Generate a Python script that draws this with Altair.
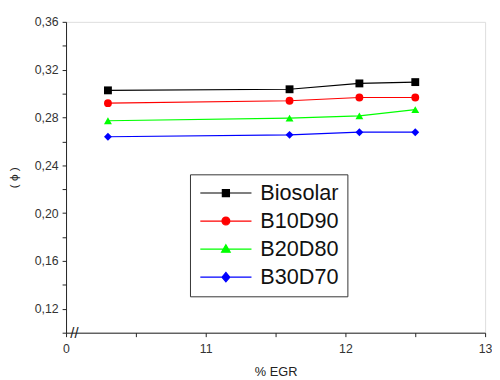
import altair as alt
import pandas as pd

# ---- data ----
egr = [10.3, 11.6, 12.1, 12.5]
biosolar = [0.3027, 0.3036, 0.3085, 0.3096]
b10d90 = [0.2920, 0.2940, 0.2967, 0.2967]
b20d80 = [0.2773, 0.2795, 0.2814, 0.2866]
b30d70 = [0.2639, 0.2655, 0.2677, 0.2677]

series_names = ["Biosolar", "B10D90", "B20D80", "B30D70"]
series_colors = ["#000000", "#ff0000", "#00ff00", "#0000ff"]
series_shapes = ["square", "circle", "triangle-up", "diamond"]
# legend glyphs: a line through the marker (unit space of Vega symbols)
legend_shapes = [
    "M-6.5,0H6.5M-0.9,-0.9H0.9V0.9H-0.9Z",
    "M-6.5,0H6.5M-1,0A1,1 0 1,0 1,0A1,1 0 1,0 -1,0Z",
    "M-6.5,0H6.5M0,-1.1L1.1,0.8L-1.1,0.8Z",
    "M-6.5,0H6.5M0,-1.2L1,0L0,1.2L-1,0Z",
]

x_ticks = [10, 10.5, 11, 11.5, 12, 12.5, 13]
y_ticks = [0.10, 0.12, 0.14, 0.16, 0.18, 0.20, 0.22, 0.24, 0.26, 0.28,
           0.30, 0.32, 0.34, 0.36]

rows = []
for name, vals in zip(series_names, [biosolar, b10d90, b20d80, b30d70]):
    for xv, yv in zip(egr, vals):
        rows.append({"egr": xv, "phi": yv, "series": name})
df = pd.DataFrame(rows)

brk = pd.DataFrame({"egr": [10.06], "phi": [0.10], "t": ["//"]})

FONT = "Liberation Sans"

xscale = alt.Scale(domain=[10, 13], nice=False, zero=False)
yscale = alt.Scale(domain=[0.10, 0.36], nice=False, zero=False)

xaxis = alt.Axis(
    values=x_ticks, title="% EGR", grid=False, labelFlush=False,
    labelExpr="datum.value % 1 != 0 ? '' : (datum.value == 10 ? '0' : format(datum.value, 'd'))",
    tickSize=4, labelOverlap=False,
    labelFontSize=12.5, titleFontSize=13, labelFont=FONT, titleFont=FONT,
    labelColor="#333", titleColor="#222", titleFontWeight="normal",
    domainColor="#222", tickColor="#222", labelPadding=6, titlePadding=11,
)
yaxis = alt.Axis(
    values=y_ticks, title="( ϕ )", grid=False, labelFlush=False,
    format=".2f", labelOverlap=False,
    labelExpr="(round(datum.value * 100) % 4 == 0 && datum.value > 0.11) ? datum.label : ''",
    tickSize=4,
    labelFontSize=12.5, titleFontSize=12, labelFont=FONT, titleFont=FONT,
    labelColor="#333", titleColor="#222", titleFontWeight="normal",
    domainColor="#222", tickColor="#222", labelPadding=4, titlePadding=14,
)

color_scale = alt.Scale(domain=series_names, range=series_colors)
shape_scale = alt.Scale(domain=series_names, range=series_shapes)
legend_shape_scale = alt.Scale(domain=series_names, range=legend_shapes)

legend = alt.Legend(
    orient="none", legendX=126, legendY=155, title=None,
    symbolSize=64, symbolStrokeWidth=1.2, symbolOpacity=1,
    symbolOffset=17.5, labelOffset=24,
    labelFontSize=22, labelFont=FONT, labelColor="#111",
    padding=8, strokeColor="#333", fillColor="#ffffff", rowPadding=6.5,
)

base = alt.Chart(df)
lines = base.mark_line(strokeWidth=1.2).encode(
    x=alt.X("egr:Q", scale=xscale, axis=xaxis),
    y=alt.Y("phi:Q", scale=yscale, axis=yaxis),
    color=alt.Color("series:N", scale=color_scale, sort=series_names, legend=None),
    detail="series:N",
)
points = base.mark_point(filled=True, size=64, opacity=1).encode(
    x=alt.X("egr:Q", scale=xscale, axis=xaxis),
    y=alt.Y("phi:Q", scale=yscale, axis=yaxis),
    color=alt.Color("series:N", scale=color_scale, sort=series_names, legend=None),
    shape=alt.Shape("series:N", scale=shape_scale, sort=series_names, legend=None),
)
# legend-only layer (no rows survive the filter; scales have explicit domains)
carrier = base.transform_filter("datum.egr < 0").mark_point(
    filled=True, size=64, strokeWidth=1.2, opacity=1
).encode(
    x=alt.X("egr:Q", scale=xscale, axis=xaxis),
    y=alt.Y("phi:Q", scale=yscale, axis=yaxis),
    fill=alt.Fill("series:N", scale=color_scale, sort=series_names, legend=legend),
    stroke=alt.Stroke("series:N", scale=color_scale, sort=series_names, legend=legend),
    shape=alt.Shape("series:N", scale=legend_shape_scale, sort=series_names, legend=legend),
)
breaks = alt.Chart(brk).mark_text(fontSize=15, font=FONT, color="#222", baseline="middle").encode(
    x=alt.X("egr:Q", scale=xscale, axis=xaxis),
    y=alt.Y("phi:Q", scale=yscale, axis=yaxis),
    text="t:N",
)

chart = alt.layer(lines, points, carrier, breaks).resolve_scale(
    shape="independent", fill="independent", stroke="independent"
).resolve_legend(
    shape="independent", fill="independent", stroke="independent"
).properties(
    width=426, height=316,
    autosize=alt.AutoSizeParams(type="none"),
    padding={"left": 59, "top": 11, "right": 7, "bottom": 45},
    background="#ffffff",
).configure_view(stroke="#222", strokeWidth=1).configure(
    locale={"number": {"decimal": ",", "thousands": ".", "grouping": [3], "currency": ["", ""]}}
)

chart.save("out.html", embed_options={"renderer": "svg", "actions": False})
